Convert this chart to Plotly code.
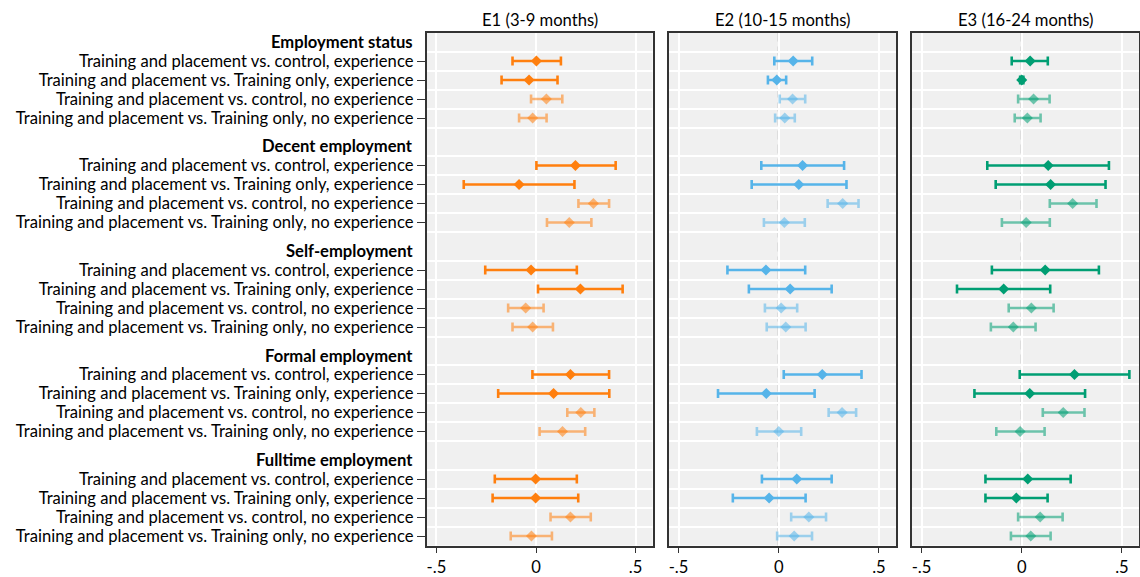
import plotly.graph_objects as go

# ---------------- data ----------------
groups = ["Employment status", "Decent employment", "Self-employment",
          "Formal employment", "Fulltime employment"]
row_labels = [
    "Training and placement vs. control, experience",
    "Training and placement vs. Training only, experience",
    "Training and placement vs. control, no experience",
    "Training and placement vs. Training only, no experience",
]
panel_titles = ["E1 (3-9 months)", "E2 (10-15 months)", "E3 (16-24 months)"]
tick_vals = [-0.5, 0, 0.5]
tick_text = ["-.5", "0", ".5"]

# E1 : point, lower, upper (per group, 4 rows each)
e1_pt = [0.002, -0.035, 0.052, -0.017,
         0.198, -0.085, 0.288, 0.167,
         -0.025, 0.223, -0.052, -0.017,
         0.173, 0.088, 0.225, 0.133,
         -0.002, -0.002, 0.173, -0.023]
e1_lo = [-0.118, -0.173, -0.025, -0.085,
         0.002, -0.363, 0.213, 0.055,
         -0.255, 0.010, -0.140, -0.118,
         -0.018, -0.190, 0.157, 0.018,
         -0.207, -0.218, 0.073, -0.127]
e1_hi = [0.125, 0.108, 0.132, 0.053,
         0.400, 0.193, 0.367, 0.278,
         0.205, 0.435, 0.038, 0.085,
         0.367, 0.368, 0.293, 0.247,
         0.205, 0.212, 0.275, 0.080]

e2_pt = [0.072, -0.010, 0.069, 0.030,
         0.119, 0.100, 0.319, 0.028,
         -0.064, 0.057, 0.012, 0.035,
         0.217, -0.062, 0.316, 0.000,
         0.090, -0.048, 0.150, 0.077]
e2_lo = [-0.022, -0.054, 0.005, -0.018,
         -0.087, -0.135, 0.244, -0.074,
         -0.256, -0.149, -0.069, -0.060,
         0.025, -0.303, 0.249, -0.109,
         -0.084, -0.229, 0.062, -0.008]
e2_hi = [0.167, 0.037, 0.132, 0.080,
         0.326, 0.338, 0.398, 0.130,
         0.132, 0.264, 0.092, 0.134,
         0.413, 0.179, 0.386, 0.112,
         0.264, 0.134, 0.236, 0.166]

e3_pt = [0.042, 0.000, 0.059, 0.028,
         0.132, 0.144, 0.254, 0.022,
         0.117, -0.090, 0.048, -0.042,
         0.263, 0.040, 0.207, -0.008,
         0.030, -0.027, 0.092, 0.045]
e3_lo = [-0.050, -0.008, -0.018, -0.035,
         -0.172, -0.130, 0.140, -0.099,
         -0.149, -0.323, -0.065, -0.154,
         -0.010, -0.236, 0.105, -0.127,
         -0.181, -0.181, -0.018, -0.054]
e3_hi = [0.130, 0.008, 0.139, 0.094,
         0.435, 0.418, 0.373, 0.140,
         0.385, 0.142, 0.159, 0.069,
         0.537, 0.316, 0.313, 0.114,
         0.244, 0.129, 0.204, 0.144]

colors = [(255, 127, 14), (86, 180, 233), (0, 158, 115)]

# ---------------- layout helpers ----------------
FONT = "Lato"
FS = 16.6
GROUP_STEP = 5.5
positions, labels, bounds = [], [], []
header_pos = []
for g, name in enumerate(groups):
    h = g * GROUP_STEP
    header_pos.append(h)
    for i, lab in enumerate(row_labels):
        positions.append(h + 1 + i)
        labels.append(lab)
    bounds += [h + 0.5 + k for k in range(5)]

y_range = [positions[-1] + 0.5, -0.5]
x_range = [-0.55, 0.585]

W, H = 1140, 577
x_domains = [[426.5 / W, 652.5 / W], [668.5 / W, 896 / W], [911.5 / W, 1139 / W]]
y_domain = [1 - 545.5 / H, 1 - 32.5 / H]

fig = go.Figure()
data = [(e1_pt, e1_lo, e1_hi), (e2_pt, e2_lo, e2_hi), (e3_pt, e3_lo, e3_hi)]
for p, (pt, lo, hi) in enumerate(data):
    r, gcol, b = colors[p]
    ax = "" if p == 0 else str(p + 1)
    for exp in (True, False):
        idx = [k for k in range(len(pt)) if ((k % 4) < 2) == exp]
        col = f"rgb({r},{gcol},{b})" if exp else f"rgba({r},{gcol},{b},0.55)"
        fig.add_trace(go.Scatter(
            x=[pt[k] for k in idx],
            y=[positions[k] for k in idx],
            mode="markers",
            marker=dict(symbol="diamond", size=8.5, color=col, line=dict(width=0)),
            error_x=dict(type="data", symmetric=False,
                         array=[hi[k] - pt[k] for k in idx],
                         arrayminus=[pt[k] - lo[k] for k in idx],
                         color=col, thickness=2.6, width=4.5),
            xaxis="x" + ax, yaxis="y" + ax,
            showlegend=False, hoverinfo="skip",
        ))

layout = dict(
    width=W, height=H,
    margin=dict(l=0, r=0, t=0, b=0),
    paper_bgcolor="white",
    plot_bgcolor="#f0f0f0",
    font=dict(family=FONT, size=FS, color="black"),
    showlegend=False,
)
shapes = []
annotations = []
for p in range(3):
    ax = "" if p == 0 else str(p + 1)
    layout["xaxis" + ax] = dict(
        domain=x_domains[p], range=x_range, anchor="y" + ax,
        tickmode="array", tickvals=tick_vals, ticktext=tick_text,
        showgrid=True, gridcolor="white", gridwidth=1.5,
        zeroline=False, showline=True, linecolor="#333333", linewidth=1.5,
        mirror=True, ticks="outside", ticklen=6, tickcolor="#333333",
        tickfont=dict(size=FS), fixedrange=True,
    )
    ydict = dict(
        domain=y_domain, range=y_range, anchor="x" + ax,
        tickmode="array", tickvals=positions,
        ticktext=labels if p == 0 else [""] * len(positions),
        showticklabels=(p == 0),
        ticks="outside" if p == 0 else "", ticklen=8, tickcolor="#333333",
        showgrid=False, zeroline=False,
        minor=dict(tickmode="array", tickvals=bounds, showgrid=True,
                   gridcolor="white", gridwidth=1.5, ticks=""),
        showline=True, linecolor="#333333", linewidth=1.5, mirror=True,
        fixedrange=True, automargin=False,
    )
    if p > 0:
        ydict["matches"] = "y"
    layout["yaxis" + ax] = ydict
    shapes.append(dict(type="line", xref="x" + ax, yref="y" + ax + " domain",
                       x0=0, x1=0, y0=0, y1=1,
                       line=dict(color="#555555", width=1.7, dash="9px,5px"),
                       layer="below"))
    annotations.append(dict(text=panel_titles[p], xref="x" + ax + " domain",
                            yref="paper", x=0.5, y=1 - 20 / H,
                            xanchor="center", yanchor="middle",
                            showarrow=False, font=dict(size=FS)))

for g, name in enumerate(groups):
    annotations.append(dict(text="<b>" + name + "</b>", xref="paper", yref="y",
                            x=(426.5 - 12) / W, y=header_pos[g],
                            xanchor="right", yanchor="middle",
                            showarrow=False, font=dict(size=FS)))

layout["shapes"] = shapes
layout["annotations"] = annotations
fig.update_layout(**layout)
fig.write_html("out.html",
               config={"displayModeBar": False},
               post_script="document.body.style.margin='0px';document.body.style.overflow='hidden';")
